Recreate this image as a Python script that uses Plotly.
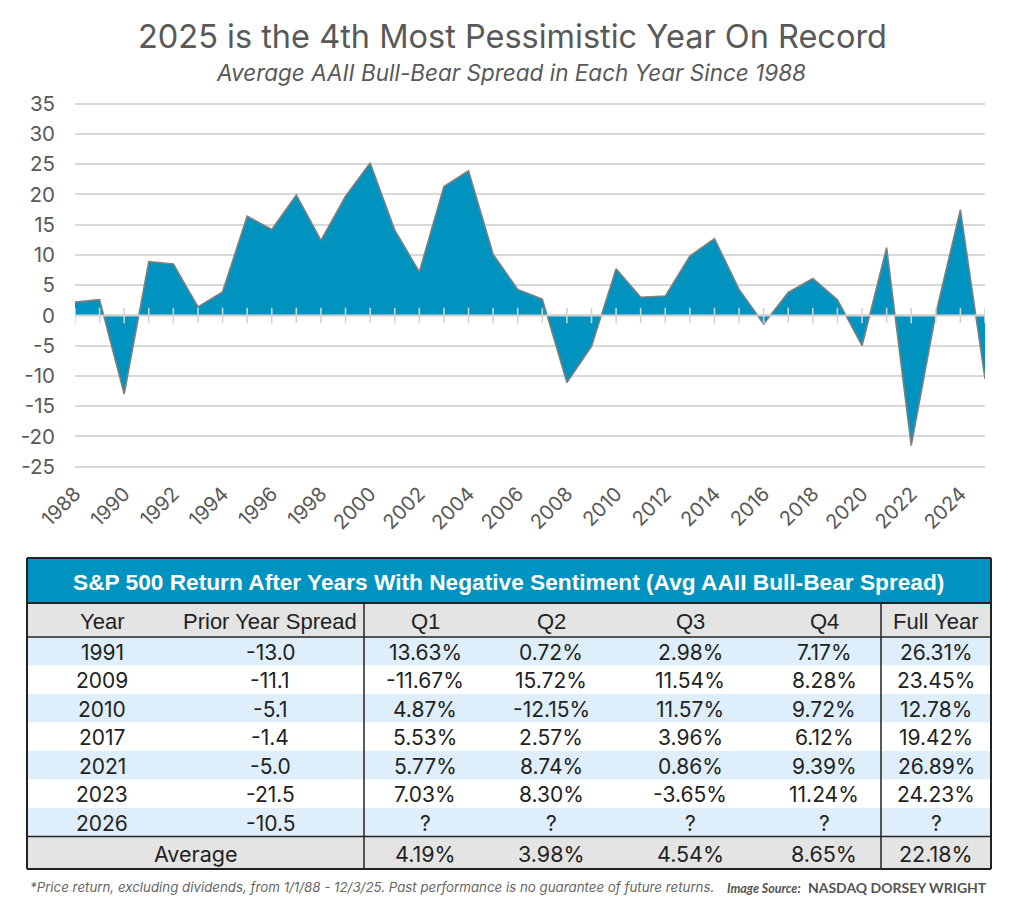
import plotly.graph_objects as go

W, H = 1024, 911

# ---------------- data ----------------
years = list(range(1988, 2026))
spread = [2.2, 2.6, -13.0, 8.9, 8.5, 1.4, 3.9, 16.4, 14.2, 19.9,
          12.4, 19.7, 25.2, 14.1, 7.2, 21.3, 23.9, 10.1, 4.3, 2.7,
          -11.1, -5.1, 7.7, 3.0, 3.2, 9.8, 12.7, 4.3, -1.4, 3.8,
          6.1, 2.6, -5.0, 11.2, -21.5, 0.3, 17.5, -10.5]

y_ticks = [-25, -20, -15, -10, -5, 0, 5, 10, 15, 20, 25, 30, 35]
x_ticks = list(range(1988, 2026, 2))

table_title = "S&P 500 Return After Years With Negative Sentiment (Avg AAII Bull-Bear Spread)"
col_headers = ["Year", "Prior Year Spread", "Q1", "Q2", "Q3", "Q4", "Full Year"]
tbl_year = ["1991", "2009", "2010", "2017", "2021", "2023", "2026"]
tbl_prior = ["-13.0", "-11.1", "-5.1", "-1.4", "-5.0", "-21.5", "-10.5"]
tbl_q1 = ["13.63%", "-11.67%", "4.87%", "5.53%", "5.77%", "7.03%", "?"]
tbl_q2 = ["0.72%", "15.72%", "-12.15%", "2.57%", "8.74%", "8.30%", "?"]
tbl_q3 = ["2.98%", "11.54%", "11.57%", "3.96%", "0.86%", "-3.65%", "?"]
tbl_q4 = ["7.17%", "8.28%", "9.72%", "6.12%", "9.39%", "11.24%", "?"]
tbl_full = ["26.31%", "23.45%", "12.78%", "19.42%", "26.89%", "24.23%", "?"]
avg_label = "Average"
avg_values = ["4.19%", "3.98%", "4.54%", "8.65%", "22.18%"]

title = "2025 is the 4th Most Pessimistic Year On Record"
subtitle = "Average AAII Bull-Bear Spread in Each Year Since 1988"
footnote = "*Price return, excluding dividends, from 1/1/88 - 12/3/25. Past performance is no guarantee of future returns."
source_label = "Image Source:"
source_name = "NASDAQ DORSEY WRIGHT"

# ---------------- styles ----------------
BLUE = "#0093C0"
LINE_GRAY = "#7f7f7f"
GRID = "#d9d9d9"
TXT = "#595959"
DARK = "#222222"
LIGHTBLUE = "#DFEEFB"
HEADGRAY = "#E4E4E4"

def py(y):  # pixel -> paper y
    return 1 - y / H

def px(x):
    return x / W

# chart geometry
ymin, ymax = -25.25, 35.25
plot_left, plot_right = 75, 985
top_px = 103.7 - 0.25 * 6.05
bot_px = 466.7 + 0.25 * 6.05

fig = go.Figure()

fig.add_trace(go.Scatter(
    x=years, y=spread, mode="lines", fill="tozeroy",
    fillcolor=BLUE, line=dict(color=LINE_GRAY, width=1.6),
    hoverinfo="x+y", showlegend=False))

# zero line and crossing ticks (drawn above the area)
fig.add_trace(go.Scatter(
    x=[years[0], years[-1]], y=[0, 0], mode="lines",
    line=dict(color="#d3d3d3", width=2), hoverinfo="skip", showlegend=False))
fig.add_trace(go.Scatter(
    x=years, y=[0] * len(years), mode="markers",
    marker=dict(symbol="line-ns", size=11, line=dict(color="#d3d3d3", width=1.6)),
    hoverinfo="skip", showlegend=False))

fig.update_layout(
    width=W, height=H,
    margin=dict(l=0, r=0, t=0, b=0, pad=0, autoexpand=False),
    paper_bgcolor="white", plot_bgcolor="rgba(0,0,0,0)",
    font=dict(family="Inter", color=TXT),
    xaxis=dict(domain=[px(plot_left), px(plot_right)], range=[years[0], years[-1]],
               tickmode="array", tickvals=x_ticks, ticktext=[str(t) for t in x_ticks],
               tickangle=-45, showgrid=False, zeroline=False, showline=False,
               ticks="", tickfont=dict(size=20, color=TXT, family="Inter"),
               ticklabelstandoff=9, automargin=False),
    yaxis=dict(domain=[py(bot_px), py(top_px)], range=[ymin, ymax],
               tickmode="array", tickvals=y_ticks, ticktext=[str(t) for t in y_ticks],
               showgrid=True, gridcolor=GRID, gridwidth=1.5, zeroline=False,
               showline=False, ticks="", tickfont=dict(size=20.5, color=TXT, family="Inter"),
               ticklabelstandoff=19, automargin=False),
    xaxis2=dict(domain=[0, 1], range=[0, W], visible=False, anchor="y2", automargin=False),
    yaxis2=dict(domain=[0, 1], range=[H, 0], visible=False, anchor="x2", automargin=False),
)

annotations = []
shapes = []

annotations.append(dict(text=title, x=px(512), y=py(36), xref="paper", yref="paper",
                        showarrow=False, xanchor="center", yanchor="middle",
                        font=dict(size=32.5, color=TXT, family="Inter")))
annotations.append(dict(text="<i>" + subtitle + "</i>", x=px(511), y=py(72), xref="paper", yref="paper",
                        showarrow=False, xanchor="center", yanchor="middle",
                        font=dict(size=22.5, color=TXT, family="Inter")))

# ---------------- table ----------------
T_L, T_R = 27, 991
T_TOP = 558
TITLE_B = 603
HEAD_B = 637
ROW_H = 28.5
n_rows = len(tbl_year)
AVG_T = HEAD_B + ROW_H * n_rows
T_BOT = 869
V1, V2 = 364, 881
col_x = [102, 270, 425, 551, 690, 824, 936]

def rect(x0, y0, x1, y1, color, layer="below"):
    shapes.append(dict(type="rect", xref="x2", yref="y2", x0=x0, y0=y0, x1=x1, y1=y1,
                       fillcolor=color, line=dict(width=0), layer=layer))

def line(x0, y0, x1, y1, w=2, color=DARK):
    shapes.append(dict(type="line", xref="x2", yref="y2", x0=x0, y0=y0, x1=x1, y1=y1,
                       line=dict(color=color, width=w), layer="above"))

def txt(s, x, y, size=21, color=DARK, family="Inter"):
    annotations.append(dict(text=s, x=x, y=y, xref="x2", yref="y2", showarrow=False,
                            xanchor="center", yanchor="middle",
                            font=dict(size=size, color=color, family=family)))

rect(T_L, T_TOP, T_R, TITLE_B, BLUE)
rect(T_L, TITLE_B, T_R, HEAD_B, HEADGRAY)
for i in range(n_rows):
    y0 = HEAD_B + ROW_H * i
    rect(T_L, y0, T_R, y0 + ROW_H, LIGHTBLUE if i % 2 == 0 else "white")
rect(T_L, AVG_T, T_R, T_BOT, HEADGRAY)

txt("<b>" + table_title + "</b>", (T_L + T_R) / 2 - 1, (T_TOP + TITLE_B) / 2 + 1, size=22.7,
    color="white", family="Liberation Sans, Arial")
for h, cx in zip(col_headers, col_x):
    txt(h, cx, (TITLE_B + HEAD_B) / 2 + 1, size=22, family="Liberation Sans, Arial")

cols = [tbl_year, tbl_prior, tbl_q1, tbl_q2, tbl_q3, tbl_q4, tbl_full]
for i in range(n_rows):
    cy = HEAD_B + ROW_H * (i + 0.5) + 1
    for c, cx in zip(cols, col_x):
        txt(c[i], cx, cy)

avg_cy = (AVG_T + T_BOT) / 2 + 1
txt(avg_label, (T_L + V1) / 2, avg_cy, size=21.5)
for v, cx in zip(avg_values, col_x[2:]):
    txt(v, cx, avg_cy, size=21.5)

# borders
line(T_L, T_TOP, T_R, T_TOP)
line(T_L, T_BOT, T_R, T_BOT)
line(T_L, T_TOP, T_L, T_BOT)
line(T_R, T_TOP, T_R, T_BOT)
line(T_L, TITLE_B, T_R, TITLE_B)
line(T_L, HEAD_B, T_R, HEAD_B, w=1.5)
line(T_L, AVG_T, T_R, AVG_T, w=1.5)
line(V1, TITLE_B, V1, T_BOT, w=1.5)
line(V2, TITLE_B, V2, T_BOT, w=1.5)

# footer
annotations.append(dict(text="<i>" + footnote + "</i>", x=px(28), y=py(887), xref="paper", yref="paper",
                        showarrow=False, xanchor="left", yanchor="middle",
                        font=dict(size=13.3, color="#666666", family="Inter")))
annotations.append(dict(text="<b><i><span style='font-size:12.5px'>" + source_label + "</span></i></b>  "
                             "<b>" + source_name + "</b>",
                        x=px(989), y=py(887), xref="paper", yref="paper",
                        showarrow=False, xanchor="right", yanchor="middle",
                        font=dict(size=14, color="#555555", family="Lato")))

fig.update_layout(annotations=annotations, shapes=shapes)
fig.write_html("out.html", config={"displayModeBar": False},
               post_script="document.body.style.margin='0px';")
